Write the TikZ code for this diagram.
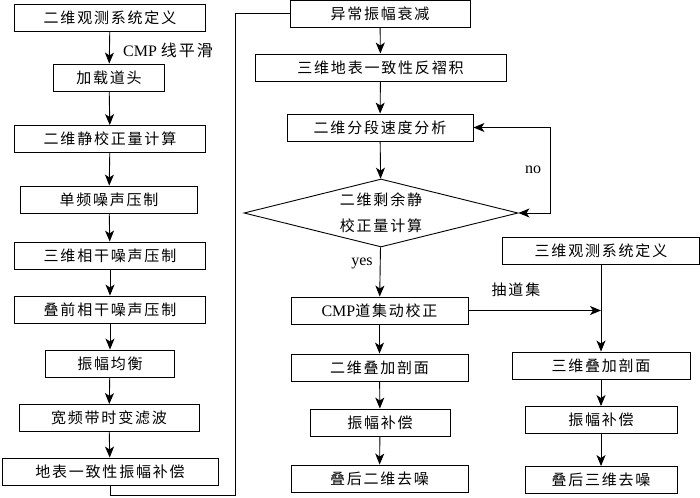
\documentclass[tikz,border=0pt]{standalone}
\usepackage{fontspec}
\setmainfont{Liberation Serif}
\newfontfamily\cjk[LetterSpace=12]{Noto Sans CJK SC}
\usetikzlibrary{shapes.geometric,arrows.meta}
\tikzset{
  box/.style={draw, line width=0.9pt, minimum height=27pt, inner sep=0pt,
    font=\cjk\fontsize{15}{18}\selectfont},
  tip/.tip={Stealth[length=11pt,width=9pt,inset=3pt]},
  flow/.style={line width=0.9pt, -tip},
  lbl/.style={inner sep=0pt, font=\fontsize{16}{18}\selectfont}
}
\begin{document}
\begin{tikzpicture}[x=1pt,y=-1pt]
\useasboundingbox (0,0) rectangle (700,497);

\node[box,minimum width=191pt] (L1) at (110,17.5) {二维观测系统定义};
\node[box,minimum width=111pt] (L2) at (109,77.5) {加载道头};
\node[box,minimum width=191pt] (L3) at (110,139) {二维静校正量计算};
\node[box,minimum width=177pt] (L4) at (109,199.5) {单频噪声压制};
\node[box,minimum width=191pt] (L5) at (110,255.5) {三维相干噪声压制};
\node[box,minimum width=191pt] (L6) at (110,309.5) {叠前相干噪声压制};
\node[box,minimum width=129pt] (L7) at (110,363.5) {振幅均衡};
\node[box,minimum width=180pt] (L8) at (109,418) {宽频带时变滤波};
\node[box,minimum width=216pt] (L9) at (110,471.5) {地表一致性振幅补偿};

\node[box,minimum width=180pt] (M1) at (380,13.5) {异常振幅衰减};
\node[box,minimum width=251pt] (M2) at (380.5,67.5) {三维地表一致性反褶积};
\node[box,minimum width=186pt] (M3) at (380,127.5) {二维分段速度分析};
\node[box,diamond,aspect=4,minimum width=274pt,minimum height=68pt,
  align=center,font=\cjk\fontsize{15}{26}\selectfont] (D) at (381,213) {二维剩余静\\校正量计算};
\node[box,minimum width=177pt] (M4) at (379.5,310.5) {{\rmfamily\fontsize{16}{18}\selectfont CMP}道集动校正};
\node[box,minimum width=177pt] (M5) at (379.5,367.5) {二维叠加剖面};
\node[box,minimum width=140pt] (M6) at (380,422.5) {振幅补偿};
\node[box,minimum width=177pt] (M7) at (379.5,478.5) {叠后二维去噪};

\node[box,minimum width=197pt] (R1) at (601,250.5) {三维观测系统定义};
\node[box,minimum width=178pt] (R2) at (601,365.5) {三维叠加剖面};
\node[box,minimum width=152pt] (R3) at (601,420) {振幅补偿};
\node[box,minimum width=152pt] (R4) at (601,480) {叠后三维去噪};

\node[lbl,anchor=west] (cmp) at (123,50) {CMP {\cjk 线平滑}};
\node[lbl] (no) at (533,170) {no};
\node[lbl] (yes) at (362,263) {yes};
\node[lbl,font=\cjk\fontsize{15}{18}\selectfont] (chou) at (516,290) {抽道集};

\foreach \a/\b in {L1/L2,L2/L3,L3/L4,L4/L5,L5/L6,L6/L7,L7/L8,L8/L9,
  M1/M2,M2/M3,M3/D,D/M4,M4/M5,M5/M6,M6/M7,R1/R2,R2/R3,R3/R4}
  \draw[flow] (\a) -- (\b);

\coordinate (b1) at (235,495);
\coordinate (noc) at (550,170);
\draw[line width=0.9pt] (L9.south) |- (b1) |- (M1.west);
\draw[flow,tip-tip] (M3.east) -| (noc) |- (D.east);
\draw[flow] (M4.east) -- (R1.south |- M4.east);
\end{tikzpicture}
\end{document}
